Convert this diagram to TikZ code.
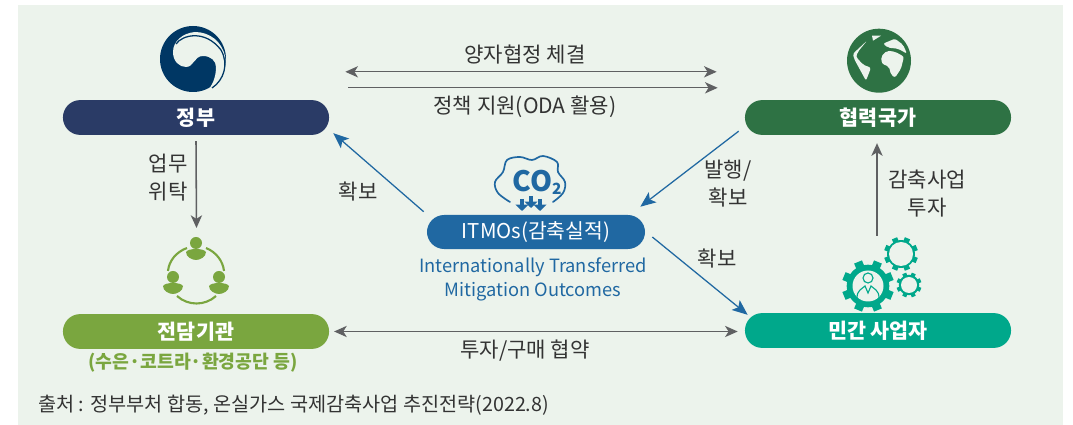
\documentclass[tikz,border=0pt]{standalone}
\usepackage{fontspec}
\setmainfont{Noto Sans CJK KR}
\usepackage{xcolor}
\usetikzlibrary{arrows.meta}

\definecolor{panelbg}{HTML}{ECF3EC}
\definecolor{govblue}{HTML}{2A3B66}
\definecolor{emblemblue}{HTML}{003764}
\definecolor{partnergreen}{HTML}{2E7244}
\definecolor{agencygreen}{HTML}{7AA63F}
\definecolor{privateteal}{HTML}{00A88B}
\definecolor{itmoblue}{HTML}{2068A2}
\definecolor{arrowgray}{HTML}{5F6062}
\definecolor{textgray}{HTML}{333333}

\tikzset{
	pill/.style={rounded corners=0.43cm,minimum width=6.65cm,minimum height=0.87cm,inner sep=0pt,text=white,font=\fontsize{14.7}{18}\selectfont\bfseries},
	lbl/.style={text=textgray,align=center,inner sep=0pt,font=\fontsize{15}{20}\selectfont},
	grayline/.style={arrowgray,line width=0.8pt,-{Stealth[length=9pt,width=8pt,inset=2.5pt]}},
	grayboth/.style={arrowgray,line width=0.8pt,{Stealth[length=9pt,width=8pt,inset=2.5pt]}-{Stealth[length=9pt,width=8pt,inset=2.5pt]}},
	blueline/.style={itmoblue,line width=0.9pt,-{Stealth[length=11pt,width=9pt,inset=2.5pt]}},
}

% one gear: centre, outer radius, hole radius, tooth width
\newcommand{\gearicon}[4]{
	\fill[privateteal] (#1) circle ({#2*0.82});
	\foreach \a in {0,45,...,315}
		\draw[privateteal,line width=#4] (#1) ++(\a+22.5:{#2*0.7}) -- ++(\a+22.5:{#2*0.3});
	\fill[panelbg] (#1) circle (#3);
}

\begin{document}
\begin{tikzpicture}[x=0.025cm,y=-0.025cm]
	\useasboundingbox (0,0) rectangle (1073,425);
	\fill[panelbg] (18,5) rectangle (1063,425);

	% bars
	\node[pill,fill=govblue] (gov) at (196,117.5) {정부};
	\node[pill,fill=partnergreen] (partner) at (878,117.5) {협력국가};
	\node[pill,fill=agencygreen] (agency) at (196,331.5) {전담기관};
	\node[pill,fill=privateteal] (private) at (878,330.5) {민간 사업자};
	\node[pill,fill=itmoblue,minimum width=5.45cm,minimum height=0.85cm,font=\fontsize{14.5}{18}\selectfont] (itmo) at (536,232) {ITMOs(감축실적)};

	% emblem
	\fill[emblemblue] (193,59) circle (33);
	\fill[panelbg] (207,91) .. controls (222,82) and (227,68) .. (225,56) .. controls (222,42) and (210,32) .. (195,32)
		.. controls (183,33) and (173,41) .. (173,52) .. controls (173,62) and (180,67) .. (186,67)
		.. controls (194,67) and (194,56) .. (203,56) .. controls (211,56) and (216,61) .. (216,67) .. controls (216,78) and (212,86) .. (207,91) -- cycle;
	\draw[emblemblue,line width=0.9pt] (176,44) .. controls (182,35) and (205,29) .. (221,50) .. controls (229,64) and (224,80) .. (212,88);

	% globe
	\fill[partnergreen] (879,60.7) circle (32);
	\begin{scope}[shift={(879,60.7)}]
		\fill[panelbg,rounded corners=1.5pt] (-12,-20) -- (-26,-7) -- (-25,-2) -- (-19,9) -- (-13,20) -- (-8,7) -- (-16,4) -- (-23,-4) -- (-21,-9) -- cycle;
		\fill[panelbg,rounded corners=1.5pt] (4,-17) -- (16,-22) -- (24,-16) -- (28,-7) -- (19,-12) -- (9,-13) -- cycle;
		\fill[panelbg,rounded corners=1.5pt] (2,-4) -- (8,-10) -- (16,-9) -- (25,-4) -- (22,8) -- (16,17) -- (12,14) -- (10,6) -- (3,3) -- cycle;
		\fill[panelbg] (-7,-25) -- (2,-25) -- (-6,-20) -- cycle;
	\end{scope}

	% people
	\foreach \px/\py in {196/243,173/277,219/277}{
		\fill[agencygreen] (\px,\py) circle (6);
		\fill[agencygreen] (\px-10,\py+9) .. controls (\px-8,\py+5) and (\px+8,\py+5) .. (\px+10,\py+9) .. controls (\px+10,\py+14) and (\px+4,\py+17) .. (\px,\py+17) .. controls (\px-4,\py+17) and (\px-10,\py+14) .. (\px-10,\py+9) -- cycle;
	}
	\draw[agencygreen,line width=1.5pt] (187,248) .. controls (176,252) and (169,261) .. (168,271);
	\draw[agencygreen,line width=1.5pt] (206,248) .. controls (216,252) and (223,261) .. (224,271);
	\draw[agencygreen,line width=1.5pt] (177,296) .. controls (188,306) and (205,306) .. (216,296);

	% gears
	\gearicon{868,286}{26}{15.5}{6pt}
	\gearicon{901,254}{17}{12}{4pt}
	\gearicon{909,285}{12.5}{8}{3pt}
	\draw[privateteal,line width=0.8pt] (868,278) circle (5);
	\draw[privateteal,line width=0.8pt] (857,298) .. controls (857,290) and (862,289) .. (865,286) -- (868,293) -- (871,286) .. controls (874,289) and (879,290) .. (879,298);

	% cloud
	\draw[itmoblue,line width=1.2pt,line cap=round] plot[smooth,tension=0.6] coordinates {(510,202) (498,193) (495,182) (503,172) (507,160) (520,157) (532,160) (543,156) (557,162) (558,172) (565,182) (563,193) (553,202)};
	\node[inner sep=0pt,text=itmoblue,font=\fontsize{20}{24}\selectfont\bfseries] (co2) at (537,182) {CO\raisebox{-0.2ex}{\fontsize{11}{14}\selectfont 2}};
	\foreach \px in {522,531,540}
		\draw[itmoblue,line width=2.6pt,-{Triangle[length=4.5pt,width=9pt]}] (\px,{\px==531?196:199}) -- (\px,{\px==531?208:211});

	% labels
	\node[lbl] (treaty) at (525,55) {양자협정 체결};
	\node[lbl] (policy) at (525,107) {정책 지원(ODA 활용)};
	\node[lbl] (entrust) at (168,178) {업무\\위탁};
	\node[lbl] (secureleft) at (358,192) {확보};
	\node[lbl] (issue) at (728,184) {발행/\\확보};
	\node[lbl] (secureright) at (717,259) {확보};
	\node[lbl] (invest) at (927,193.5) {감축사업\\투자};
	\node[lbl] (buy) at (525,351) {투자/구매 협약};
	\node[inner sep=0pt,text=agencygreen,font=\fontsize{13}{16}\selectfont\bfseries] (agencies) at (193,363) {(수은·코트라·환경공단 등)};
	\node[inner sep=0pt,text=itmoblue,align=center,font=\fontsize{13}{17}\selectfont] (itmofull) at (533,279) {Internationally Transferred\\Mitigation Outcomes};
	\node[anchor=west,inner sep=0pt,text=textgray,font=\fontsize{14}{16}\selectfont] (source) at (38,405) {출처 : 정부부처 합동, 온실가스 국제감축사업 추진전략(2022.8)};

	% free ends
	\coordinate (agencytop) at (196.5,228);
	\coordinate (gearstop) at (877,236);

	% connectors
	\draw[grayboth] ([shift={(16,-28)}]gov.north east) -- ([shift={(-28,-28)}]partner.north west);
	\draw[grayline] ([shift={(19,-12)}]gov.north east) -- ([shift={(-27,-12)}]partner.north west);
	\draw[grayline,line width=1.1pt] ([yshift=-0.15cm]gov.south) -- (agencytop);
	\draw[grayline,line width=1.1pt] (gearstop) -- ([shift={(-1,8)}]partner.south);
	\draw[grayboth] ([xshift=0.12cm]agency.east) -- ([shift={(-7,1)}]private.west);
	\draw[blueline] ([shift={(-3,-3)}]itmo.north west) -- ([shift={(4,-2)}]gov.south east);
	\draw[blueline] ([shift={(-6,-4)}]partner.south west) -- ([shift={(-5,-8)}]itmo.north east);
	\draw[blueline] ([shift={(7,5)}]itmo.east) -- ([shift={(3,2)}]private.north west);
\end{tikzpicture}
\end{document}
